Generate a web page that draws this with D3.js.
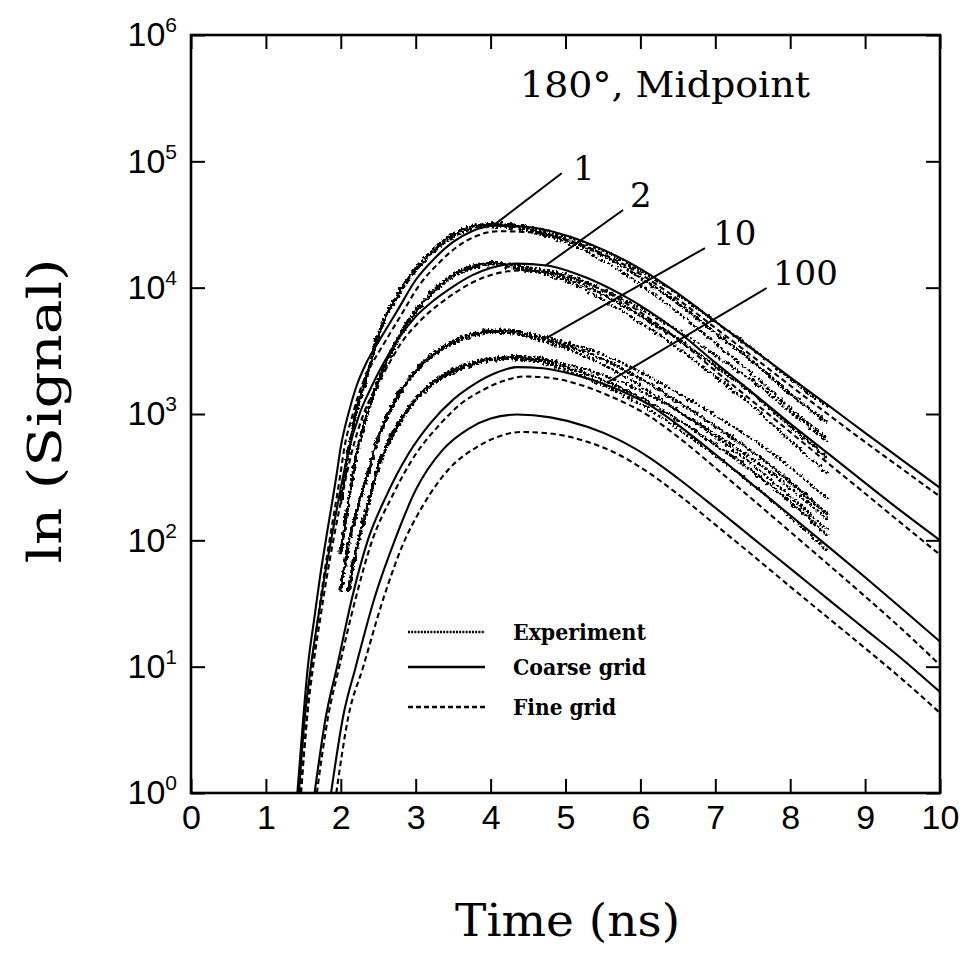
<!DOCTYPE html>
<html>
<head>
<meta charset="utf-8">
<script src="https://cdn.jsdelivr.net/npm/d3@7"></script>
<style>
  html, body { margin: 0; padding: 0; background: #fff; }
  svg { display: block; }
</style>
</head>
<body>
<svg id="chart" width="971" height="971"></svg>
<script>
// ---- axes ----
const timeTicks = [0, 1, 2, 3, 4, 5, 6, 7, 8, 9, 10];
const signalTicks = [1, 10, 100, 1000, 10000, 100000, 1000000];
const signalExponents = ["0", "1", "2", "3", "4", "5", "6"];

// ---- coarse-grid simulation, [time (ns), signal] ----
const coarse1 = [[1.42,1],[1.5,4],[1.56,10],[1.65,25],[1.72,50],[1.8,100],[1.94,320],[2.0,550],[2.1,1000],[2.2,1600],[2.35,2600],[2.5,3700],[2.75,6500],[3.0,11500],[3.25,17000],[3.5,23000],[3.75,28000],[4.05,31000],[4.5,30200],[5.0,26000],[5.5,20000],[6.0,14100],[6.5,9000],[7.0,5400],[7.5,3250],[8.0,1950],[8.5,1180],[9.0,710],[9.5,430],[10,260]];
const coarse2 = [[1.44,1],[1.52,4],[1.6,10],[1.7,25],[1.78,50],[1.87,100],[2.0,260],[2.1,500],[2.25,1000],[2.4,1600],[2.55,2400],[2.75,3800],[3.0,5900],[3.25,8000],[3.5,10200],[3.75,12500],[4.0,14300],[4.35,15500],[4.75,15000],[5.25,12200],[5.75,8800],[6.12,6500],[6.5,4500],[7.0,2550],[7.5,1470],[8.0,840],[8.5,490],[9.0,285],[9.5,167],[10,100]];
const coarse10 = [[1.65,1],[1.8,4],[1.95,10],[2.15,35],[2.36,100],[2.6,220],[2.9,480],[3.2,850],[3.5,1300],[3.8,1750],[4.1,2150],[4.35,2350],[4.7,2300],[5.1,2060],[5.6,1650],[6.12,1180],[6.5,820],[7.0,480],[7.5,275],[8.0,158],[8.5,90],[9.0,51],[9.5,28.5],[10,15.8]];
const coarse100 = [[1.87,1],[2.03,4],[2.2,10],[2.45,35],[2.72,100],[3.0,250],[3.36,520],[3.7,760],[4.0,920],[4.35,990],[4.8,940],[5.3,790],[5.7,630],[6.12,452],[6.5,310],[7.0,181],[7.5,104],[8.0,60],[8.5,34.4],[9.0,19.8],[9.5,11.4],[10,6.3]];

// ---- fine-grid simulation, [time (ns), signal] ----
const fine1 = [[1.46,1],[1.55,4],[1.61,10],[1.7,25],[1.77,50],[1.85,100],[1.99,320],[2.05,550],[2.15,950],[2.25,1500],[2.4,2400],[2.55,3400],[2.8,6000],[3.05,10500],[3.3,15500],[3.55,21000],[3.8,25500],[4.1,28000],[4.5,27500],[5.0,24000],[5.5,18500],[6.0,12800],[6.5,8100],[7.0,4800],[7.5,2850],[8.0,1680],[8.5,1000],[9.0,600],[9.5,365],[10,222]];
const fine2 = [[1.47,1],[1.55,4],[1.63,10],[1.73,25],[1.81,50],[1.9,100],[2.04,260],[2.14,480],[2.29,950],[2.45,1550],[2.6,2250],[2.8,3600],[3.05,5400],[3.3,7300],[3.55,9300],[3.8,11300],[4.05,12800],[4.4,13700],[4.8,13200],[5.3,10700],[5.8,7600],[6.12,5700],[6.5,3900],[7.0,2200],[7.5,1260],[8.0,720],[8.5,410],[9.0,235],[9.5,134],[10,77]];
const fine10 = [[1.68,1],[1.83,4],[1.98,10],[2.2,35],[2.42,100],[2.68,220],[3.0,480],[3.3,800],[3.6,1200],[3.9,1550],[4.2,1850],[4.45,1980],[4.8,1930],[5.2,1700],[5.6,1380],[6.12,960],[6.5,660],[7.0,375],[7.5,210],[8.0,117],[8.5,65],[9.0,36],[9.5,19.6],[10,10.3]];
const fine100 = [[1.94,1],[2.1,4],[2.3,10],[2.55,32],[2.82,90],[3.1,190],[3.45,370],[3.8,540],[4.1,660],[4.4,720],[4.8,700],[5.3,600],[5.7,480],[6.12,340],[6.5,232],[7.0,133],[7.5,76],[8.0,43],[8.5,24.5],[9.0,14],[9.5,7.9],[10,4.3]];

// ---- measured signal ----
const expTimes  = [2.0, 2.1, 2.2, 2.35, 2.5, 2.75, 3.0, 3.25, 3.5, 3.75, 4.0, 4.25, 4.5, 5.0, 5.5, 6.0, 6.5, 7.0, 7.5, 8.0, 8.5];
const exp1      = [200, 500, 1000, 2000, 4200, 8500, 14000, 20000, 26000, 30000, 31500, 31000, 29000, 24000, 18000, 12000, 7500, 4400, 2600, 1450, 850];
const exp2      = [80, 200, 450, 1000, 1800, 3800, 6500, 9500, 12500, 14500, 15500, 15000, 14000, 12000, 8800, 6000, 3900, 2400, 1450, 800, 450];
const exp10     = [40, 90, 160, 320, 650, 1350, 2200, 3000, 3700, 4200, 4500, 4500, 4200, 3500, 2700, 1900, 1250, 800, 500, 290, 160];
const exp100    = [null, 40, 80, 180, 380, 800, 1300, 1800, 2200, 2500, 2700, 2800, 2750, 2350, 1850, 1350, 900, 570, 350, 200, 110];
// half-width of the scatter band, in decades
const expSpread = [0.012, 0.012, 0.012, 0.012, 0.012, 0.012, 0.012, 0.012, 0.012, 0.012, 0.012, 0.012, 0.015, 0.025, 0.04, 0.055, 0.07, 0.085, 0.1, 0.115, 0.125];

// ---- curve labels: leader from a curve point out to the label ----
const labelNames   = ["1", "2", "10", "100"];
const leaderFromT  = [4.015, 4.726, 4.749, 5.55];
const leaderFromV  = [30400, 14860, 4000, 1760];
const leaderToT    = [4.949, 5.768, 6.862, 7.686];
const leaderToV    = [80400, 41200, 20600, 9940];
const labelT       = [5.10, 5.86, 6.97, 7.77];
const labelV       = [71200, 43500, 21800, 10500];

const W = 971, H = 971;
const plot = { left: 191, right: 940, top: 35, bottom: 793 };

const svg = d3.select("#chart");
svg.append("rect").attr("width", W).attr("height", H).attr("fill", "#fff");

const x = d3.scaleLinear().domain([0, 10]).range([plot.left, plot.right]);
const y = d3.scaleLog().domain([1, 1e6]).range([plot.bottom, plot.top]);

const defs = svg.append("defs");
defs.append("clipPath").attr("id", "plotClip")
  .append("rect")
  .attr("x", plot.left).attr("y", plot.top)
  .attr("width", plot.right - plot.left).attr("height", plot.bottom - plot.top);

// jitter for the noisy measured traces, then re-darken the anti-aliased dots
const rough = defs.append("filter").attr("id", "rough")
  .attr("filterUnits", "userSpaceOnUse")
  .attr("x", 0).attr("y", 0).attr("width", W).attr("height", H);
rough.append("feTurbulence").attr("type", "fractalNoise")
  .attr("baseFrequency", 0.22).attr("numOctaves", 2).attr("seed", 7).attr("result", "noise");
rough.append("feDisplacementMap").attr("in", "SourceGraphic").attr("in2", "noise")
  .attr("scale", 5).attr("xChannelSelector", "R").attr("yChannelSelector", "G")
  .attr("result", "moved");
const alphaBoost = rough.append("feComponentTransfer").attr("in", "moved");
alphaBoost.append("feFuncA").attr("type", "linear").attr("slope", 2.2).attr("intercept", 0);

const line = d3.line()
  .defined(d => d[1] != null)
  .x(d => x(d[0])).y(d => y(d[1]))
  .curve(d3.curveMonotoneX);

const plotG = svg.append("g").attr("clip-path", "url(#plotClip)");

// measured data: a dotted centre trace plus the edges of its scatter band
const expG = plotG.append("g").attr("filter", "url(#rough)");
[exp1, exp2, exp10, exp100].forEach(series => {
  const mid = expTimes.map((t, i) => [t, series[i]]);
  const hi = expTimes.map((t, i) => [t, series[i] == null ? null : series[i] * Math.pow(10, expSpread[i])]);
  const lo = expTimes.map((t, i) => [t, series[i] == null ? null : series[i] / Math.pow(10, expSpread[i])]);
  expG.append("path").attr("d", line(mid))
    .attr("fill", "none").attr("stroke", "#000").attr("stroke-width", 2.4)
    .attr("stroke-dasharray", "3 1.2");
  [hi, lo].forEach(edge => {
    expG.append("path").attr("d", line(edge))
      .attr("fill", "none").attr("stroke", "#000").attr("stroke-width", 2.2)
      .attr("stroke-dasharray", "2 2.4 2.6 1.8");
  });
});

// simulations
[coarse1, coarse2, coarse10, coarse100].forEach(series => {
  plotG.append("path").attr("d", line(series))
    .attr("fill", "none").attr("stroke", "#000").attr("stroke-width", 2.1);
});
[fine1, fine2, fine10, fine100].forEach(series => {
  plotG.append("path").attr("d", line(series))
    .attr("fill", "none").attr("stroke", "#000").attr("stroke-width", 2.1)
    .attr("stroke-dasharray", "5.5 3.5");
});

// ---- axes (ticks point inward on all four sides) ----
const tickFont = "'Liberation Sans', Arial, sans-serif";

function styleAxis(g) {
  g.select(".domain").remove();
  g.selectAll(".tick line").attr("stroke", "#000").attr("stroke-width", 2);
}

const xBottom = svg.append("g")
  .attr("transform", `translate(0,${plot.bottom})`)
  .call(d3.axisBottom(x).tickValues(timeTicks).tickSizeInner(-14).tickSizeOuter(0)
    .tickPadding(12).tickFormat(d3.format("d")));
styleAxis(xBottom);
xBottom.selectAll(".tick text")
  .attr("font-family", tickFont).attr("font-size", 34).attr("fill", "#000");

const xTop = svg.append("g")
  .attr("transform", `translate(0,${plot.top})`)
  .call(d3.axisTop(x).tickValues(timeTicks).tickSizeInner(-14).tickSizeOuter(0).tickFormat(""));
styleAxis(xTop);

const yLeft = svg.append("g")
  .attr("transform", `translate(${plot.left},0)`)
  .call(d3.axisLeft(y).tickValues(signalTicks).tickSizeInner(-14).tickSizeOuter(0)
    .tickPadding(14).tickFormat(() => ""));
styleAxis(yLeft);
yLeft.selectAll(".tick text")
  .attr("font-family", tickFont).attr("font-size", 34).attr("fill", "#000")
  .each(function(d, i) {
    const t = d3.select(this);
    t.append("tspan").text("10");
    t.append("tspan").attr("dy", -14).attr("font-size", 21).text(signalExponents[i]);
  });

const yRight = svg.append("g")
  .attr("transform", `translate(${plot.right},0)`)
  .call(d3.axisRight(y).tickValues(signalTicks).tickSizeInner(-14).tickSizeOuter(0).tickFormat(""));
styleAxis(yRight);

svg.append("rect")
  .attr("x", plot.left).attr("y", plot.top)
  .attr("width", plot.right - plot.left).attr("height", plot.bottom - plot.top)
  .attr("fill", "none").attr("stroke", "#000").attr("stroke-width", 2.6);

// ---- curve labels ----
const serif = "'DejaVu Serif', 'Liberation Serif', serif";
labelNames.forEach((name, i) => {
  svg.append("line")
    .attr("x1", x(leaderFromT[i])).attr("y1", y(leaderFromV[i]))
    .attr("x2", x(leaderToT[i])).attr("y2", y(leaderToV[i]))
    .attr("stroke", "#000").attr("stroke-width", 2);
  svg.append("text")
    .attr("x", x(labelT[i])).attr("y", y(labelV[i]))
    .attr("font-family", serif).attr("font-size", 34).attr("fill", "#000")
    .text(name);
});

// ---- panel title ----
svg.append("text")
  .attr("x", 520).attr("y", 97)
  .attr("font-family", serif).attr("font-size", 35).attr("fill", "#000")
  .attr("textLength", 290).attr("lengthAdjust", "spacingAndGlyphs")
  .text("180°, Midpoint");

// ---- legend ----
const legendRows = [
  { label: "Experiment", y: 632, dash: "2 1.2", width: 2.4, len: 133 },
  { label: "Coarse grid", y: 667, dash: null, width: 2.4, len: 133 },
  { label: "Fine grid", y: 707, dash: "5 3", width: 2.4, len: 103 }
];
const legend = svg.append("g");
legendRows.forEach(r => {
  const l = legend.append("line")
    .attr("x1", 408).attr("x2", 485).attr("y1", r.y).attr("y2", r.y)
    .attr("stroke", "#000").attr("stroke-width", r.width);
  if (r.dash) l.attr("stroke-dasharray", r.dash);
  legend.append("text")
    .attr("x", 513).attr("y", r.y + 8)
    .attr("font-family", serif).attr("font-weight", "bold").attr("font-size", 22)
    .attr("textLength", r.len).attr("lengthAdjust", "spacingAndGlyphs")
    .attr("fill", "#000")
    .text(r.label);
});

// ---- axis titles ----
svg.append("text")
  .attr("x", (plot.left + plot.right) / 2 + 2).attr("y", 936)
  .attr("text-anchor", "middle")
  .attr("font-family", serif).attr("font-size", 44).attr("fill", "#000")
  .attr("textLength", 225).attr("lengthAdjust", "spacingAndGlyphs")
  .text("Time (ns)");

svg.append("text")
  .attr("transform", "translate(61,411) rotate(-90)")
  .attr("text-anchor", "middle")
  .attr("font-family", serif).attr("font-size", 46).attr("fill", "#000")
  .attr("textLength", 305).attr("lengthAdjust", "spacingAndGlyphs")
  .text("ln (Signal)");
</script>
</body>
</html>
